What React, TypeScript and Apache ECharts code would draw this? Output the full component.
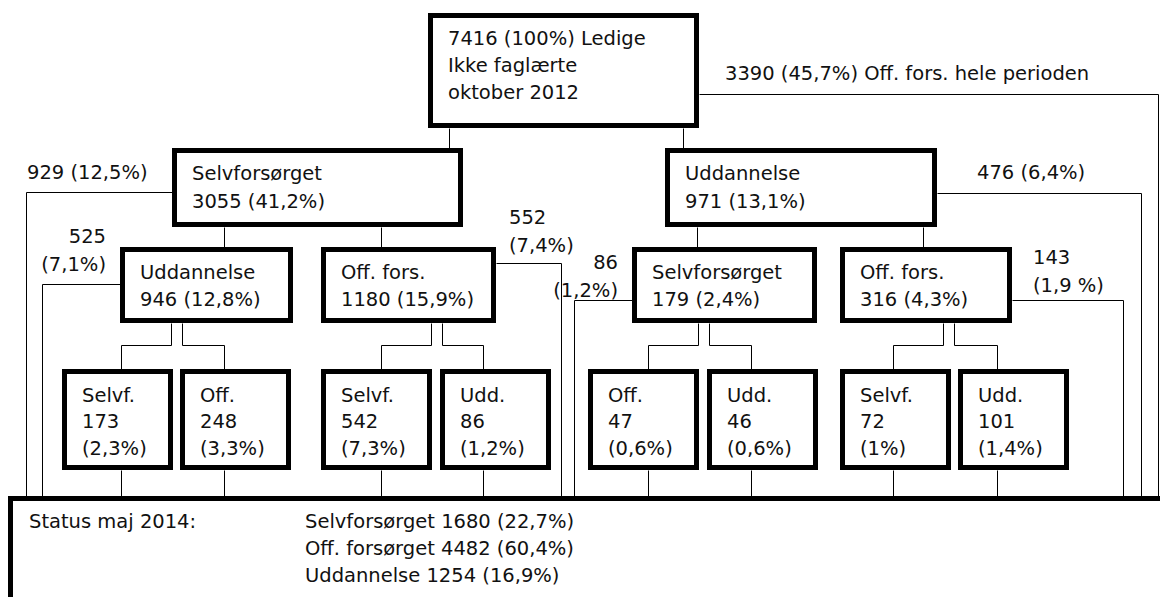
import React, { useEffect, useRef } from "react";
import * as echarts from "echarts";

// ---------- data (texts / values) ----------
const rootLines = ["7416 (100%) Ledige", "Ikke faglærte", "oktober 2012"];
const level1Lines = [
  ["Selvforsørget", "3055 (41,2%)"],
  ["Uddannelse", "971 (13,1%)"],
];
const level2Lines = [
  ["Uddannelse", "946 (12,8%)"],
  ["Off. fors.", "1180 (15,9%)"],
  ["Selvforsørget", "179 (2,4%)"],
  ["Off. fors.", "316 (4,3%)"],
];
const level3Names = ["Selvf.", "Off.", "Selvf.", "Udd.", "Off.", "Udd.", "Selvf.", "Udd."];
const level3Values = ["173", "248", "542", "86", "47", "46", "72", "101"];
const level3Shares = ["(2,3%)", "(3,3%)", "(7,3%)", "(1,2%)", "(0,6%)", "(0,6%)", "(1%)", "(1,4%)"];
const flowLabels = [
  ["3390 (45,7%) Off. fors. hele perioden"],
  ["929 (12,5%)"],
  ["476 (6,4%)"],
  ["525", "(7,1%)"],
  ["552", "(7,4%)"],
  ["86", "(1,2%)"],
  ["143", "(1,9 %)"],
];
const statusTitle = "Status maj 2014:";
const statusLines = ["Selvforsørget 1680 (22,7%)", "Off. forsørget 4482 (60,4%)", "Uddannelse 1254 (16,9%)"];

// ---------- layout ----------
const FONT = '19.5px "DejaVu Sans", Verdana, sans-serif';
const BW = 5;
type Box = [number, number, number, number]; // left, top, right, bottom (outer)
const rootBox: Box = [428, 13, 699, 128];
const l1Boxes: Box[] = [
  [172, 148, 463, 227],
  [665, 148, 937, 227],
];
const l2Boxes: Box[] = [
  [120, 247, 293, 323],
  [321, 247, 496, 323],
  [632, 247, 817, 323],
  [840, 247, 1012, 323],
];
const l3Left = [62, 180, 321, 440, 588, 707, 840, 958];
const l3W = 111;
const l3Top = 369;
const l3Bottom = 470;
const bottomBox: Box = [8, 496, 1220, 720];
const bottomTop = 496;

const splitX = [
  [171, 182, 121, 224],
  [431, 442, 381, 483],
  [698, 709, 648, 751],
  [943, 954, 893, 997],
];
const l1Drops = [449, 683];
const l2Drops = [224, 381, 697, 923];
// side flows: [startX, y, endX]
const sideFlows = [
  [699, 94, 1158],
  [172, 192, 26],
  [937, 193, 1141],
  [120, 284, 42],
  [496, 263, 561],
  [632, 300, 574],
  [1012, 300, 1123],
];
// flow label positions: [x, firstLineY, align]
const flowLabelPos: [number, number, string][] = [
  [725, 73, "left"],
  [27, 172, "left"],
  [977, 172, "left"],
  [106, 236, "right"],
  [509, 217, "left"],
  [618, 262, "right"],
  [1033, 257, "left"],
];

function txt(text: string, x: number, y: number, align = "left") {
  return {
    type: "text",
    z: 10,
    style: {
      text,
      x,
      y,
      font: FONT,
      fill: "#111",
      textAlign: align,
      textVerticalAlign: "middle",
      align,
      verticalAlign: "middle",
    },
  };
}

function rect(b: Box) {
  return {
    type: "rect",
    z: 5,
    shape: {
      x: b[0] + BW / 2,
      y: b[1] + BW / 2,
      width: b[2] - b[0] - BW,
      height: b[3] - b[1] - BW,
    },
    style: { fill: "#fff", stroke: "#000", lineWidth: BW },
  };
}

function pl(points: number[][]) {
  return {
    type: "polyline",
    z: 1,
    shape: { points: points.map((p) => [p[0] + 0.5, p[1] + 0.5]) },
    style: { stroke: "#000", lineWidth: 1, fill: null },
  };
}

function buildElements() {
  const els: any[] = [];
  // connectors
  l1Drops.forEach((x) => els.push(pl([[x, rootBox[3]], [x, l1Boxes[0][1]]])));
  l2Drops.forEach((x) => els.push(pl([[x, l1Boxes[0][3]], [x, l2Boxes[0][1]]])));
  splitX.forEach(([a, b, ta, tb]) => {
    els.push(pl([[a, 323], [a, 345], [ta, 345], [ta, l3Top]]));
    els.push(pl([[b, 323], [b, 345], [tb, 345], [tb, l3Top]]));
    els.push(pl([[ta, l3Bottom], [ta, bottomTop]]));
    els.push(pl([[tb, l3Bottom], [tb, bottomTop]]));
  });
  sideFlows.forEach(([sx, y, ex]) => els.push(pl([[sx, y], [ex, y], [ex, bottomTop]])));

  // boxes
  els.push(rect(rootBox));
  rootLines.forEach((t, i) => els.push(txt(t, 448, 38 + i * 27)));
  l1Boxes.forEach((b, i) => {
    els.push(rect(b));
    level1Lines[i].forEach((t, j) => els.push(txt(t, b[0] + 20, 173 + j * 28)));
  });
  l2Boxes.forEach((b, i) => {
    els.push(rect(b));
    level2Lines[i].forEach((t, j) => els.push(txt(t, b[0] + 20, 272 + j * 27)));
  });
  l3Left.forEach((x, i) => {
    els.push(rect([x, l3Top, x + l3W, l3Bottom]));
    [level3Names[i], level3Values[i], level3Shares[i]].forEach((t, j) =>
      els.push(txt(t, x + 20, 395 + j * 26.5))
    );
  });
  els.push(rect(bottomBox));
  els.push(txt(statusTitle, 29, 521));
  statusLines.forEach((t, j) => els.push(txt(t, 305, 521 + j * 27)));

  // flow labels
  flowLabels.forEach((lines, i) => {
    const [x, y, align] = flowLabelPos[i];
    lines.forEach((t, j) => els.push(txt(t, x, y + j * 28, align)));
  });
  return els;
}

export default function App() {
  const ref = useRef<HTMLDivElement>(null);
  useEffect(() => {
    if (!ref.current) return;
    const chart = echarts.init(ref.current, null, { renderer: "svg" });
    chart.setOption({
      animation: false,
      backgroundColor: "#fff",
      graphic: { elements: buildElements() },
    });
    return () => chart.dispose();
  }, []);
  return (
    <div
      ref={ref}
      style={{ position: "fixed", left: 0, top: 0, width: 1160, height: 597, background: "#fff" }}
    />
  );
}
